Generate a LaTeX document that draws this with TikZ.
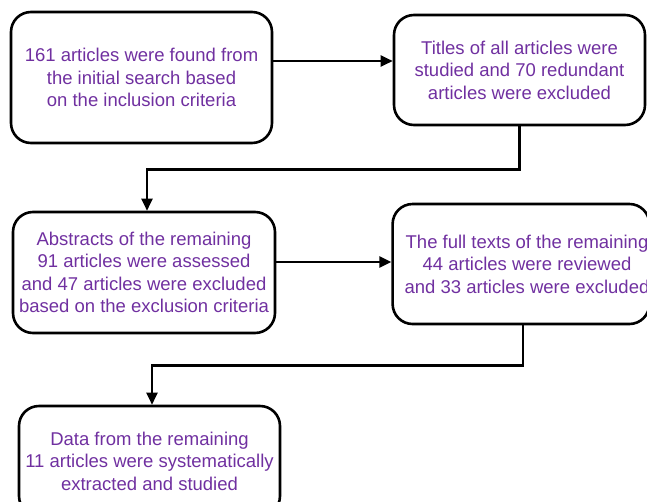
\documentclass[tikz,border=0pt]{standalone}
\usepackage{fontspec}
\setmainfont{Liberation Sans}
\usetikzlibrary{arrows.meta}
\definecolor{txtpurple}{RGB}{112,48,160}
\begin{document}
\begin{tikzpicture}[
    x			= 1pt,
    y			= -1pt,
    box/.style		= {draw, line width=2.6pt, rounded corners=20pt, inner sep=0pt,
                           align=center, text=txtpurple,
                           font=\fontsize{18.5}{22.5}\selectfont},
    >={Triangle[length=12pt,width=11pt]}
  ]
\useasboundingbox (0,0) rectangle (647,501);
% boxes
\node[box, minimum width=261pt, minimum height=131pt] (found) at (141.5,77.5)
  {161 articles were found from\\the initial search based\\on the inclusion criteria};
\node[box, minimum width=251pt, minimum height=110pt] (titles) at (519.5,70)
  {Titles of all articles were\\studied and 70 redundant\\articles were excluded};
\node[box, minimum width=262pt, minimum height=121pt] (abstracts) at (144,272.5)
  {Abstracts of the remaining\\91 articles were assessed\\and 47 articles were excluded\\based on the exclusion criteria};
\node[box, minimum width=248pt, minimum height=120pt] (fulltext) at (521,264)
  {\hspace*{12pt}The full texts of the remaining\\\hspace*{12pt}44 articles were reviewed\\\hspace*{12pt}and 33 articles were excluded};
\node[box, minimum width=261pt, minimum height=110pt] (data) at (149.5,461)
  {Data from the remaining\\11 articles were systematically\\extracted and studied};
% connectors
\draw[->, line width=2.4pt] ([yshift=16.5pt]found.east) -- ([yshift=16.5pt]found.east -| titles.west);
\draw[->, line width=2.4pt] (titles.south) -- ++(0,43) -| ([xshift=3pt]abstracts.north);
\draw[->, line width=2.4pt] ([yshift=10.5pt]abstracts.east) -- ([yshift=10.5pt]abstracts.east -| fulltext.west);
\draw[->, line width=2.4pt] ([xshift=2pt]fulltext.south) -- ++(0,40) -| ([xshift=2.5pt]data.north);
%
\end{tikzpicture}
\end{document}
